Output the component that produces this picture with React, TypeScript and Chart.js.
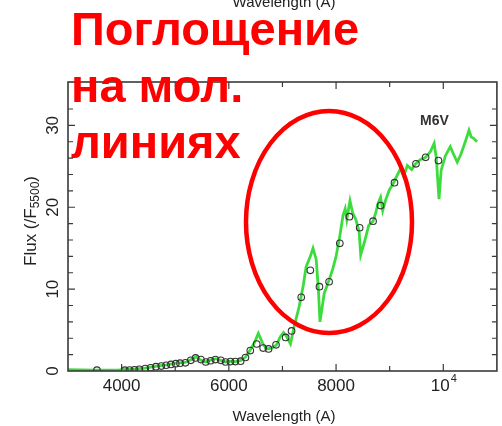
import React, { useEffect, useRef } from 'react';
import { Chart, registerables } from 'chart.js';

Chart.register(...registerables);

// ---- data ----
const spectrumWavelength = [3000,3500,3960,4000,4240,4440,4650,4830,5020,5185,5300,5390,5480,5570,5670,5760,5850,5940,6040,6130,6220,6310,6400,6480,6550,6630,6700,6800,6890,6960,7020,7070,7150,7220,7310,7390,7440,7520,7570,7630,7670,7700,7780,7870,7940,8000,8070,8130,8170,8200,8260,8310,8370,8430,8460,8540,8610,8690,8740,8780,8830,8870,8930,9000,9060,9110,9200,9260,9330,9410,9480,9570,9670,9760,9830,9870,9920,9960,10040,10130,10190,10260,10330,10410,10480,10520,10570,10630];
const spectrumFlux = [0.15,0.1,0.1,0.2,0.25,0.35,0.6,0.75,0.95,1.05,1.4,1.75,1.3,1.1,1.35,1.5,1.3,1.1,1.2,1.15,1.3,1.7,2.6,3.5,4.6,3.4,2.7,2.8,3.2,4.2,4.7,4.3,3.3,5.5,7.8,10.5,12.7,14.0,15.0,13.6,10.0,6.0,9.5,11.1,12.5,14.0,16.5,19.0,19.8,18.5,20.8,19.3,18.5,17.0,14.2,16.0,17.8,18.3,19.3,20.4,21.2,19.6,21.0,22.2,22.8,23.5,24.7,23.8,25.1,24.6,25.3,25.8,26.1,26.8,27.8,26.0,21.0,24.5,26.3,27.4,26.5,25.5,26.5,28.0,29.4,28.6,28.4,28.0];

const pointWavelength = [3540,4060,4150,4240,4330,4440,4540,4640,4740,4830,4920,5010,5090,5190,5290,5380,5480,5570,5660,5750,5850,5940,6030,6120,6220,6310,6400,6520,6640,6740,6880,7060,7170,7350,7520,7690,7870,8070,8250,8440,8690,8830,9090,9490,9670,9910];
const pointFlux = [0.1,0.1,0.12,0.15,0.2,0.3,0.4,0.53,0.6,0.7,0.8,0.9,0.95,1.0,1.3,1.6,1.4,1.1,1.25,1.4,1.3,1.1,1.15,1.15,1.2,1.65,2.5,3.3,2.8,2.7,3.2,4.1,4.9,9.0,12.3,10.3,10.9,15.6,18.85,17.5,18.3,20.2,23.0,25.3,26.1,25.7];

const xTickValues = [4000, 6000, 8000, 10000];
const xTickLabels = ['4000', '6000', '8000', '10^4'];
const yTickValues = [0, 10, 20, 30];
const yTickLabels = ['0', '10', '20', '30'];
const xAxisTitle = 'Wavelength (A)';
const yAxisTitleMain = 'Flux (/F';
const yAxisTitleSub = '5500';
const yAxisTitleEnd = ')';
const starLabel = 'M6V';
const annotationLines = ['Поглощение', 'на мол.', 'линиях'];

const FONT = '"Liberation Sans", Arial, Helvetica, sans-serif';

const framePlugin = {
  id: 'framePlugin',
  afterDraw(chart: any) {
    const ctx = chart.ctx as CanvasRenderingContext2D;
    const { left, right, top, bottom } = chart.chartArea;
    const xs = chart.scales.x;
    const ys = chart.scales.y;
    ctx.save();
    // frame
    ctx.strokeStyle = '#3a3a3a';
    ctx.lineWidth = 1.6;
    ctx.strokeRect(left, top, right - left, bottom - top);
    // inward ticks
    ctx.lineWidth = 1.2;
    ctx.beginPath();
    xs.ticks.forEach((t: any) => {
      const x = xs.getPixelForValue(t.value);
      if (x <= left + 1 || x >= right - 1) return;
      const len = t.value % 2000 === 0 ? 7 : 5;
      ctx.moveTo(x, bottom); ctx.lineTo(x, bottom - len);
      ctx.moveTo(x, top); ctx.lineTo(x, top + len);
    });
    ys.ticks.forEach((t: any) => {
      const y = ys.getPixelForValue(t.value);
      if (y <= top + 1 || y >= bottom - 1) return;
      const len = t.value % 10 === 0 ? 7 : 5;
      ctx.moveTo(left, y); ctx.lineTo(left + len, y);
      ctx.moveTo(right, y); ctx.lineTo(right - len, y);
    });
    ctx.stroke();

    // x tick labels
    ctx.fillStyle = '#222';
    ctx.textBaseline = 'middle';
    xTickValues.forEach((v, i) => {
      const x = xs.getPixelForValue(v);
      const lab = xTickLabels[i];
      if (lab.includes('^')) {
        const [base, sup] = lab.split('^');
        ctx.font = `17px ${FONT}`;
        const wb = ctx.measureText(base).width;
        ctx.font = `11px ${FONT}`;
        const ws = ctx.measureText(sup).width;
        const x0 = x - (wb + ws) / 2;
        ctx.textAlign = 'left';
        ctx.font = `17px ${FONT}`;
        ctx.fillText(base, x0, 386);
        ctx.font = `11px ${FONT}`;
        ctx.fillText(sup, x0 + wb + 1, 379);
      } else {
        ctx.font = `17px ${FONT}`;
        ctx.textAlign = 'center';
        ctx.fillText(lab, x, 386);
      }
    });
    // y tick labels (rotated)
    yTickValues.forEach((v, i) => {
      const y = ys.getPixelForValue(v);
      ctx.save();
      ctx.translate(53, y);
      ctx.rotate(-Math.PI / 2);
      ctx.font = `17px ${FONT}`;
      ctx.textAlign = 'center';
      ctx.textBaseline = 'middle';
      ctx.fillText(yTickLabels[i], 0, 0);
      ctx.restore();
    });

    // axis titles
    ctx.font = `15px ${FONT}`;
    ctx.textAlign = 'center';
    ctx.textBaseline = 'alphabetic';
    ctx.fillText(xAxisTitle, 284, 421);
    ctx.fillText(xAxisTitle, 284, 7);

    ctx.save();
    ctx.translate(31, 221);
    ctx.rotate(-Math.PI / 2);
    ctx.font = `17px ${FONT}`;
    const w1 = ctx.measureText(yAxisTitleMain).width;
    const w3 = ctx.measureText(yAxisTitleEnd).width;
    ctx.font = `12px ${FONT}`;
    const w2 = ctx.measureText(yAxisTitleSub).width;
    let cx = -(w1 + w2 + w3) / 2;
    ctx.textAlign = 'left';
    ctx.textBaseline = 'middle';
    ctx.font = `17px ${FONT}`;
    ctx.fillText(yAxisTitleMain, cx, 0);
    cx += w1;
    ctx.font = `12px ${FONT}`;
    ctx.fillText(yAxisTitleSub, cx, 5);
    cx += w2;
    ctx.font = `17px ${FONT}`;
    ctx.fillText(yAxisTitleEnd, cx, 0);
    ctx.restore();

    // star label
    ctx.font = `bold 14px ${FONT}`;
    ctx.fillStyle = '#333';
    ctx.textAlign = 'left';
    ctx.textBaseline = 'alphabetic';
    ctx.fillText(starLabel, 420, 125);

    // red ellipse
    ctx.strokeStyle = '#ff0000';
    ctx.lineWidth = 4.5;
    ctx.beginPath();
    ctx.ellipse(329, 222, 83, 111, 0, 0, Math.PI * 2);
    ctx.stroke();

    // red annotation text
    ctx.fillStyle = '#ff0000';
    ctx.font = `bold 47px ${FONT}`;
    ctx.textAlign = 'left';
    ctx.textBaseline = 'alphabetic';
    const baselines = [45, 102, 158];
    annotationLines.forEach((s, i) => ctx.fillText(s, 71, baselines[i]));
    ctx.restore();
  },
};

export default function App() {
  const ref = useRef<HTMLCanvasElement | null>(null);
  useEffect(() => {
    if (!ref.current) return;
    const spectrum = spectrumWavelength.map((x, i) => ({ x, y: spectrumFlux[i] }));
    const points = pointWavelength.map((x, i) => ({ x, y: pointFlux[i] }));
    const chart = new Chart(ref.current, {
      type: 'scatter',
      data: {
        datasets: [
          {
            label: 'photometry',
            data: points,
            showLine: false,
            pointRadius: 3.3,
            pointBorderWidth: 1.1,
            borderColor: '#333',
            backgroundColor: 'rgba(0,0,0,0)',
            order: 0,
          },
          {
            label: 'spectrum',
            data: spectrum,
            showLine: true,
            pointRadius: 0,
            borderColor: '#3ddc3d',
            borderWidth: 2.8,
            tension: 0,
            order: 1,
          },
        ],
      },
      options: {
        responsive: false,
        animation: false,
        events: [],
        layout: { padding: { top: 82, right: 1, left: 0, bottom: 0 } },
        plugins: { legend: { display: false }, tooltip: { enabled: false } },
        scales: {
          x: {
            type: 'linear',
            min: 3000,
            max: 11000,
            border: { display: false },
            grid: { display: false },
            ticks: { display: false, stepSize: 1000 },
            afterFit: (s: any) => { s.height = 55; },
          },
          y: {
            type: 'linear',
            min: 0,
            max: 35.3,
            border: { display: false },
            grid: { display: false },
            ticks: { display: false, stepSize: 2 },
            afterFit: (s: any) => { s.width = 68; },
          },
        },
      },
      plugins: [framePlugin],
    });
    return () => chart.destroy();
  }, []);
  return (
    <div style={{ position: 'absolute', left: 0, top: 0, width: 502, height: 426, background: '#fff' }}>
      <canvas ref={ref} width={502} height={426} style={{ display: 'block' }} />
    </div>
  );
}
